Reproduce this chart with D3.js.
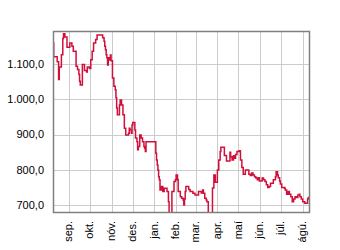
<!DOCTYPE html>
<html>
<head>
<meta charset="utf-8">
<script src="https://cdn.jsdelivr.net/npm/d3@7"></script>
<style>
  body { margin: 0; background: #fff; }
  text { font-family: "Liberation Sans", Arial, sans-serif; }
</style>
</head>
<body>
<div id="chart"></div>
<script>
// daily closing values, step line
var dates = ["2010-08-09","2010-08-10","2010-08-15","2010-08-17","2010-08-18","2010-08-21","2010-08-23","2010-08-24","2010-08-26","2010-08-29",
  "2010-09-02","2010-09-05","2010-09-07","2010-09-11","2010-09-13","2010-09-15","2010-09-16","2010-09-17","2010-09-20","2010-09-23",
  "2010-09-26","2010-09-27","2010-09-30","2010-10-02","2010-10-04","2010-10-06","2010-10-09","2010-10-11","2010-10-19","2010-10-21",
  "2010-10-22","2010-10-23","2010-10-24","2010-10-25","2010-10-26","2010-10-27","2010-10-29","2010-10-30","2010-10-31","2010-11-02",
  "2010-11-04","2010-11-06","2010-11-07","2010-11-08","2010-11-09","2010-11-12","2010-11-13","2010-11-15","2010-11-17","2010-11-19",
  "2010-11-21","2010-11-25","2010-11-26","2010-11-27","2010-11-29","2010-11-30","2010-12-01","2010-12-04","2010-12-05","2010-12-07",
  "2010-12-08","2010-12-09","2010-12-11","2010-12-13","2010-12-15","2010-12-17","2010-12-18","2010-12-19","2010-12-20","2011-01-03",
  "2011-01-04","2011-01-05","2011-01-06","2011-01-07","2011-01-08","2011-01-09","2011-01-11","2011-01-13","2011-01-15","2011-01-19",
  "2011-01-21","2011-01-22","2011-01-26","2011-01-29","2011-01-31","2011-02-01","2011-02-03","2011-02-04","2011-02-07","2011-02-09",
  "2011-02-11","2011-02-12","2011-02-13","2011-02-14","2011-02-15","2011-02-19","2011-02-21","2011-02-25","2011-02-28","2011-03-05",
  "2011-03-09","2011-03-11","2011-03-12","2011-03-14","2011-03-16","2011-03-17","2011-03-19","2011-03-25","2011-03-27","2011-03-29",
  "2011-04-01","2011-04-03","2011-04-05","2011-04-06","2011-04-11","2011-04-14","2011-04-19","2011-04-20","2011-04-22","2011-04-24",
  "2011-04-25","2011-04-27","2011-04-29","2011-05-02","2011-05-04","2011-05-06","2011-05-08","2011-05-11","2011-05-16","2011-05-18",
  "2011-05-20","2011-05-22","2011-05-24","2011-05-26","2011-05-28","2011-05-29","2011-05-31","2011-06-04","2011-06-06","2011-06-08",
  "2011-06-10","2011-06-12","2011-06-14","2011-06-16","2011-06-20","2011-06-23","2011-06-24","2011-06-26","2011-06-27","2011-06-29",
  "2011-06-30","2011-07-02","2011-07-06","2011-07-07","2011-07-09","2011-07-11","2011-07-13","2011-07-15","2011-07-17","2011-07-19",
  "2011-07-21","2011-07-23","2011-07-25","2011-07-27","2011-07-28","2011-07-30","2011-08-01","2011-08-04","2011-08-08","2011-08-09",
  "2011-08-10"];

var values = [1159,1120,1106,1056,1091,1126,1172,1185,1176,1147,
  1159,1150,1136,1093,1084,1070,1051,1040,1098,1081,
  1077,1091,1087,1112,1136,1159,1169,1182,1174,1164,
  1150,1140,1126,1117,1097,1117,1111,1125,1109,1060,
  1037,1027,1004,975,956,984,998,984,956,918,
  899,904,918,913,904,927,934,913,890,880,
  857,866,899,890,880,866,861,852,880,847,
  828,814,800,781,772,743,753,739,748,739,
  710,670,739,767,772,786,772,739,724,720,
  715,701,718,739,753,745,739,734,729,739,
  735,743,734,720,715,710,670,749,786,765,
  800,828,852,864,841,825,850,837,828,840,
  833,844,852,854,828,807,788,800,788,784,
  791,786,781,777,772,778,769,777,772,767,
  758,750,753,762,772,781,795,786,778,769,
  760,750,748,743,731,739,731,724,710,718,
  724,722,729,731,724,718,710,706,718,722,
  722];

var yTicks = [700, 800, 900, 1000, 1100];
var monthLabels = ["sep.", "okt.", "nóv.", "des.", "jan.", "feb.", "mar.", "apr.", "maí", "jún.", "júl.", "ágú."];

var W = 340, H = 250;
var plotLeft = 53, plotRight = 309, plotTop = 31, plotBottom = 212;

var parse = d3.timeParse("%Y-%m-%d");
var data = dates.map(function (d, i) { return { date: parse(d), value: values[i] }; });

var isLocale = d3.formatLocale({ decimal: ",", thousands: ".", grouping: [3], currency: ["", " kr."] });
var fmt = isLocale.format(",.1f");

var svg = d3.select("#chart")
    .append("svg")
    .attr("width", W)
    .attr("height", H);

var x = d3.scaleTime()
    .domain([parse("2010-08-09"), parse("2011-08-10")])
    .range([plotLeft, plotRight]);

var y = d3.scaleLinear()
    .domain([681, 1193])
    .range([plotBottom, plotTop]);

var monthTicks = x.ticks(d3.timeMonth.every(1)).filter(function (d) { return d > x.domain()[0]; });

// grid
svg.append("g")
    .selectAll("line")
    .data(monthTicks)
    .enter()
    .append("line")
    .attr("x1", function (d) { return Math.round(x(d)) + 0.5; })
    .attr("x2", function (d) { return Math.round(x(d)) + 0.5; })
    .attr("y1", plotTop)
    .attr("y2", plotBottom)
    .attr("stroke", "#cccccc")
    .attr("stroke-width", 1);

svg.append("g")
    .selectAll("line")
    .data(yTicks)
    .enter()
    .append("line")
    .attr("x1", plotLeft)
    .attr("x2", plotRight)
    .attr("y1", function (d) { return Math.round(y(d)) + 0.5; })
    .attr("y2", function (d) { return Math.round(y(d)) + 0.5; })
    .attr("stroke", "#cccccc")
    .attr("stroke-width", 1);

// clip
svg.append("clipPath")
    .attr("id", "plotclip")
    .append("rect")
    .attr("x", plotLeft)
    .attr("y", plotTop)
    .attr("width", plotRight - plotLeft)
    .attr("height", plotBottom - plotTop);

var line = d3.line()
    .curve(d3.curveStepAfter)
    .x(function (d) { return x(d.date); })
    .y(function (d) { return y(d.value); });

svg.append("path")
    .datum(data)
    .attr("clip-path", "url(#plotclip)")
    .attr("fill", "none")
    .attr("stroke", "#d0103a")
    .attr("stroke-width", 1.5)
    .attr("d", line);

// frame
svg.append("rect")
    .attr("x", plotLeft + 0.5)
    .attr("y", plotTop + 0.5)
    .attr("width", plotRight - plotLeft)
    .attr("height", plotBottom - plotTop)
    .attr("fill", "none")
    .attr("stroke", "#808080")
    .attr("stroke-width", 1.5);

// y labels
svg.append("g")
    .selectAll("text")
    .data(yTicks)
    .enter()
    .append("text")
    .attr("x", 44)
    .attr("y", function (d) { return y(d); })
    .attr("dy", "0.35em")
    .attr("text-anchor", "end")
    .style("font-size", "11px")
    .attr("fill", "#000")
    .text(function (d) { return fmt(d); });

// x labels
svg.append("g")
    .selectAll("text")
    .data(monthTicks)
    .enter()
    .append("text")
    .attr("transform", function (d) { return "translate(" + x(d) + "," + 221 + ") rotate(-90)"; })
    .attr("dy", "0.3em")
    .attr("text-anchor", "end")
    .style("font-size", "11px")
    .attr("fill", "#000")
    .text(function (d, i) { return monthLabels[i]; });
</script>
</body>
</html>
